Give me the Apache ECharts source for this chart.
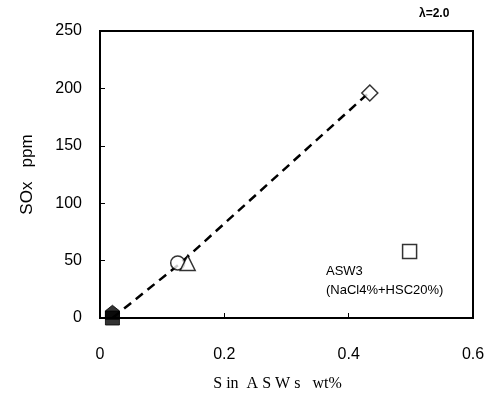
<!DOCTYPE html>
<html><head><meta charset="utf-8">
<script src="https://cdn.jsdelivr.net/npm/echarts@6/dist/echarts.min.js"></script>
<style>html,body{margin:0;padding:0;background:#fff}#c{width:497px;height:412px}</style>
</head><body><div id="c"></div>
<script>
const xTicks = [0, 0.2, 0.4, 0.6];
const yTicks = [0, 50, 100, 150, 200, 250];
const lineX = [0.02, 0.13, 0.43];
const lineY = [0, 48, 195];
const filledSquare = [[0.02, 0]];
const filledPentagon = [[0.02, 5]];
const openCircle = [[0.125, 48]];
const openTriangle = [[0.141, 48]];
const openDiamond = [[0.434, 196]];
const openSquare = [[0.498, 58]];
const noteLines = ['ASW3', '(NaCl4%+HSC20%)'];

const chart = echarts.init(document.getElementById('c'));
const pent = 'path://M0,4 L5,0 L10,4 L10,10 L0,10 Z';
const lineData = lineX.map((x, i) => [x, lineY[i]]);
const mk = (data, symbol, size, filled) => ({
  type: 'scatter', data, symbol, symbolSize: size, z: 5,
  itemStyle: filled ? {color: '#000', borderColor: '#000'} : {color: '#fff', borderColor: '#000', borderWidth: 1.5}
});
chart.setOption({
  animation: false,
  grid: {left: 100, right: 24, top: 31, bottom: 94, show: true, borderColor: '#000', borderWidth: 2},
  xAxis: {
    type: 'value', min: 0, max: 0.6, interval: 0.2,
    name: 'S in  A S W s   wt%', nameLocation: 'middle', nameGap: 58,
    nameTextStyle: {fontFamily: 'Liberation Serif', fontSize: 16, color: '#000', padding: [0, 18, 0, 0]},
    axisLine: {lineStyle: {color: '#000', width: 2}},
    axisTick: {inside: true, length: 5, lineStyle: {color: '#000'}},
    axisLabel: {margin: 29, fontFamily: 'Liberation Sans', fontSize: 16, color: '#000',
      formatter: v => xTicks.includes(Math.round(v*10)/10) ? (v === 0 ? '0' : v.toFixed(1)) : ''},
    splitLine: {show: false}
  },
  yAxis: {
    type: 'value', min: 0, max: 250, interval: 50,
    name: 'SOx   ppm', nameLocation: 'middle', nameGap: 64,
    nameTextStyle: {fontFamily: 'Liberation Sans', fontSize: 17, color: '#000'},
    axisLine: {lineStyle: {color: '#000', width: 2}},
    axisTick: {inside: true, length: 5, lineStyle: {color: '#000'}},
    axisLabel: {margin: 18, fontFamily: 'Liberation Sans', fontSize: 16, color: '#000',
      formatter: v => yTicks.includes(v) ? String(v) : ''},
    splitLine: {show: false}
  },
  series: [
    {type: 'line', data: lineData, symbol: 'none', z: 3,
     lineStyle: {color: '#000', width: 2.5, type: [9, 6]}},
    mk(openCircle, 'circle', 14, false),
    mk(openTriangle, 'triangle', 15, false),
    mk(openDiamond, 'diamond', 16, false),
    mk(openSquare, 'rect', 14, false),
    mk(filledPentagon, pent, 14, true),
    mk(filledSquare, 'rect', 14, true)
  ],
  graphic: [
    {type: 'text', left: 419, top: 8, style: {text: 'λ=2.0', font: 'bold 12px "Liberation Sans"', fill: '#000'}},
    {type: 'text', left: 326, top: 262, style: {text: noteLines.join('\n'), font: '13px "Liberation Sans"', lineHeight: 19, fill: '#000'}}
  ]
});
</script></body></html>
